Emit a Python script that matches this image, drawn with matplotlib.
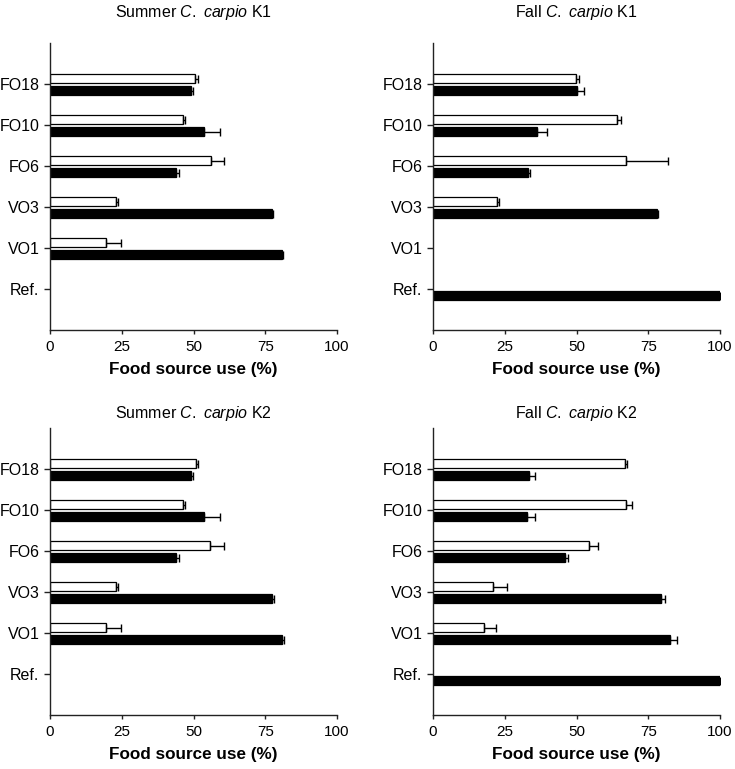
import numpy as np
import matplotlib
matplotlib.use('Agg')
import matplotlib.pyplot as plt

plt.rcParams['font.family'] = ['Liberation Sans', 'DejaVu Sans']
plt.rcParams['mathtext.fontset'] = 'custom'
plt.rcParams['mathtext.rm'] = 'Liberation Sans'
plt.rcParams['mathtext.it'] = 'Liberation Sans:italic'

nan = np.nan
categories = ['Ref.', 'VO1', 'VO3', 'FO6', 'FO10', 'FO18']
ticks = [0, 25, 50, 75, 100]

titles = ['Summer $\\mathit{C.}$ $\\mathit{carpio}$ K1', 'Fall $\\mathit{C.}$ $\\mathit{carpio}$ K1',
          'Summer $\\mathit{C.}$ $\\mathit{carpio}$ K2', 'Fall $\\mathit{C.}$ $\\mathit{carpio}$ K2']

# white bars (open) and black bars (filled), with + error
summer_k1_white = [nan, 19.5, 22.9, 56.0, 46.4, 50.5]
summer_k1_white_err = [nan, 5.1, 0.7, 4.7, 0.7, 1.1]
summer_k1_black = [nan, 80.7, 77.3, 43.9, 53.7, 49.0]
summer_k1_black_err = [nan, 0.6, 0.5, 1.0, 5.6, 0.8]

fall_k1_white = [nan, nan, 22.4, 67.1, 64.0, 49.7]
fall_k1_white_err = [nan, nan, 0.7, 14.7, 1.5, 1.3]
fall_k1_black = [100, nan, 78.0, 33.1, 36.2, 50.3]
fall_k1_black_err = [nan, nan, 0.5, 0.7, 3.4, 2.3]

summer_k2_white = [nan, 19.6, 22.9, 55.9, 46.3, 50.7]
summer_k2_white_err = [nan, 5.1, 0.8, 4.9, 0.8, 0.9]
summer_k2_black = [nan, 80.7, 77.4, 43.9, 53.8, 49.2]
summer_k2_black_err = [nan, 0.7, 0.5, 1.0, 5.5, 0.6]

fall_k2_white = [nan, 17.6, 21.0, 54.2, 67.1, 66.8]
fall_k2_white_err = [nan, 4.5, 4.9, 3.3, 2.4, 0.9]
fall_k2_black = [100, 82.6, 79.5, 45.9, 32.9, 33.6]
fall_k2_black_err = [nan, 2.4, 1.4, 1.3, 2.7, 1.8]

panels = [
    (summer_k1_white, summer_k1_white_err, summer_k1_black, summer_k1_black_err),
    (fall_k1_white, fall_k1_white_err, fall_k1_black, fall_k1_black_err),
    (summer_k2_white, summer_k2_white_err, summer_k2_black, summer_k2_black_err),
    (fall_k2_white, fall_k2_white_err, fall_k2_black, fall_k2_black_err),
]

fig = plt.figure(figsize=(7.35, 7.69), dpi=100)
W, H = 735, 769
boxes = [(50, 43), (433, 43), (50, 428), (433, 428)]
aw, ah = 287, 287

y = np.arange(len(categories))
h = 0.21
for i, (wv, we, bv, be) in enumerate(panels):
    x0, top = boxes[i]
    ax = fig.add_axes([x0 / W, 1 - (top + ah) / H, aw / W, ah / H])
    wv = np.array(wv, float)
    bv = np.array(bv, float)
    we = np.array(we, float)
    be = np.array(be, float)
    ax.barh(y + 0.13, wv, height=h, color='white', edgecolor='black', linewidth=0.9, zorder=2)
    ax.barh(y - 0.16, bv, height=h, color='black', edgecolor='black', linewidth=0.9, zorder=2)
    ax.errorbar(wv, y + 0.13, xerr=[np.zeros_like(we), we], fmt='none',
                ecolor='black', elinewidth=1, capsize=3, capthick=1, zorder=3)
    ax.errorbar(bv, y - 0.16, xerr=[np.zeros_like(be), be], fmt='none',
                ecolor='black', elinewidth=1, capsize=3, capthick=1, zorder=3)
    ax.set_xlim(0, 100)
    ax.set_ylim(-1, 6)
    ax.set_yticks(y)
    ax.set_yticklabels(categories, fontsize=11.5)
    ax.set_xticks(ticks)
    ax.set_xticklabels([str(t) for t in ticks], fontsize=11)
    ax.spines['top'].set_visible(False)
    ax.spines['right'].set_visible(False)
    for s in ('left', 'bottom'):
        ax.spines[s].set_linewidth(1)
        ax.spines[s].set_color('#222222')
    ax.tick_params(axis='y', length=4.5, width=1, color='#222222', pad=3)
    ax.tick_params(axis='x', length=3, width=1, color='#222222', pad=4)
    ax.set_xlabel('Food source use (%)', fontsize=12.3, fontweight='bold', labelpad=6)
    ax.set_title(titles[i], fontsize=11.5, pad=19 if i < 2 else 7)

plt.savefig('out.png', dpi=100)
